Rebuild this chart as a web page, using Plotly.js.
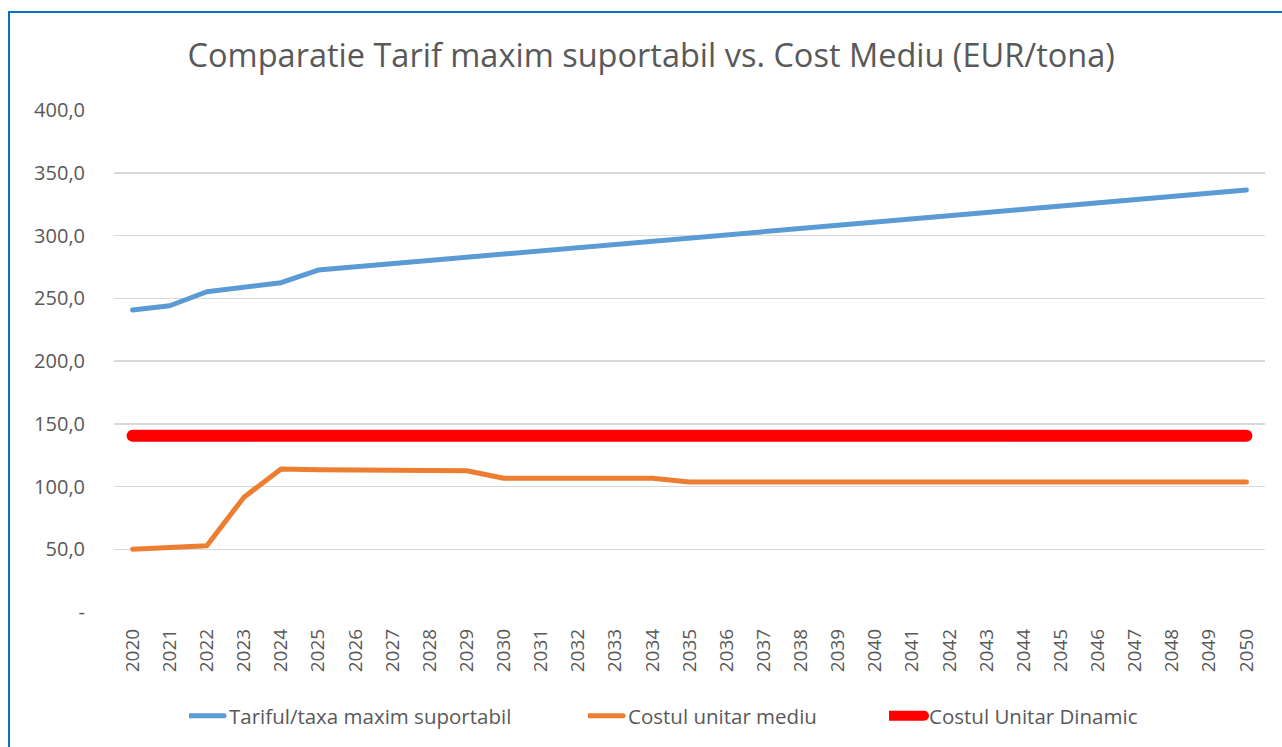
<!DOCTYPE html>
<html>
<head>
<meta charset="utf-8">
<script src="https://cdn.plot.ly/plotly-3.0.1.min.js"></script>
<style>
  html, body { margin: 0; padding: 0; background: #ffffff; }
  #wrap { position: relative; width: 1282px; height: 747px; overflow: hidden; }
  #chart { position: absolute; left: 0; top: 0; width: 1282px; height: 747px; }
  #frame { position: absolute; left: 8px; top: 11px; width: 1300px; height: 760px;
           border-left: 2px solid #0a70c4; border-top: 2px solid #0a70c4; pointer-events: none; }
  .scatterlayer .js-line, .legendlines path { stroke-linecap: round; stroke-linejoin: round; }
</style>
</head>
<body>
<div id="wrap">
  <div id="chart"></div>
  <div id="frame"></div>
</div>
<script>
const years = ["2020","2021","2022","2023","2024","2025","2026","2027","2028","2029","2030",
  "2031","2032","2033","2034","2035","2036","2037","2038","2039","2040",
  "2041","2042","2043","2044","2045","2046","2047","2048","2049","2050"];

const tarifMaxim = [240.6, 244.0, 255.2, 259.2, 262.4, 272.5, 275.0, 277.5, 280.0, 282.6, 285.1,
  287.6, 290.2, 292.7, 295.3, 297.8, 300.4, 303.0, 305.5, 308.1, 310.7,
  313.2, 315.8, 318.3, 320.9, 323.4, 326.0, 328.6, 331.1, 333.7, 336.3];

const costMediu = [50.0, 51.2, 52.8, 91.5, 114.0, 113.4, 113.1, 113.0, 112.8, 112.6, 106.6,
  106.6, 106.6, 106.6, 106.6, 103.6, 103.6, 103.6, 103.6, 103.6, 103.6,
  103.6, 103.6, 103.6, 103.6, 103.6, 103.6, 103.6, 103.6, 103.6, 103.6];

const costDinamic = [140.4, 140.4, 140.4, 140.4, 140.4, 140.4, 140.4, 140.4, 140.4, 140.4, 140.4,
  140.4, 140.4, 140.4, 140.4, 140.4, 140.4, 140.4, 140.4, 140.4, 140.4,
  140.4, 140.4, 140.4, 140.4, 140.4, 140.4, 140.4, 140.4, 140.4, 140.4];

const yTickVals = [0, 50, 100, 150, 200, 250, 300, 350, 400];
const yTickText = ["-", "50,0", "100,0", "150,0", "200,0", "250,0", "300,0", "350,0", "400,0"];

const seriesNames = ["Tariful/taxa maxim suportabil", "Costul unitar mediu", "Costul Unitar Dinamic"];

const FONT = "'Open Sans', 'Noto Sans', sans-serif";
const TXT = "#595959";

const traces = [
  { x: years, y: tarifMaxim, name: seriesNames[0], type: "scatter", mode: "lines",
    line: { color: "#5b9bd5", width: 5 }, legend: "legend" },
  { x: years, y: costMediu, name: seriesNames[1], type: "scatter", mode: "lines",
    line: { color: "#ed7d31", width: 5 }, legend: "legend2" },
  { x: years, y: costDinamic, name: seriesNames[2], type: "scatter", mode: "lines",
    line: { color: "#ff0000", width: 12 }, legend: "legend3" }
];

function cx(px) { return px / 1282; }
const legBase = { orientation: "h", xanchor: "left", yanchor: "middle",
  xref: "container", yref: "container", y: (747 - 716) / 747,
  font: { family: FONT, size: 20.5, color: TXT }, bgcolor: "rgba(0,0,0,0)", itemwidth: 30 };

const layout = {
  width: 1282, height: 747,
  margin: { l: 114, r: 17, t: 110, b: 135, autoexpand: false },
  paper_bgcolor: "#ffffff", plot_bgcolor: "#ffffff",
  font: { family: FONT, color: TXT },
  title: { text: "Comparatie Tarif maxim suportabil vs. Cost Mediu (EUR/tona)",
    font: { family: FONT, size: 32.5, color: TXT },
    x: 0.508, xanchor: "center", y: 0.925, yanchor: "middle", yref: "container" },
  xaxis: { type: "category", range: [-0.5, 30.5], tickangle: -90, automargin: false,
    tickfont: { family: FONT, size: 19, color: TXT }, showgrid: false,
    showline: false, zeroline: false, ticks: "", ticklabelstandoff: 12, fixedrange: true },
  yaxis: { range: [0, 400], tickvals: yTickVals, ticktext: yTickText, automargin: false,
    tickfont: { family: FONT, size: 20, color: TXT }, showgrid: true,
    gridcolor: "#d9d9d9", gridwidth: 1.5, zeroline: false, showline: false, ticks: "",
    ticklabelstandoff: 28, fixedrange: true },
  showlegend: true,
  legend: Object.assign({}, legBase, { x: cx(189) }),
  legend2: Object.assign({}, legBase, { x: cx(588) }),
  legend3: Object.assign({}, legBase, { x: cx(889) })
};

Plotly.newPlot("chart", traces, layout, { displayModeBar: false, staticPlot: true }).then(function (gd) {
  gd.querySelectorAll(".legendlines path").forEach(function (p) {
    p.setAttribute("d", "M-19,0h54");
  });
});
</script>
</body>
</html>
